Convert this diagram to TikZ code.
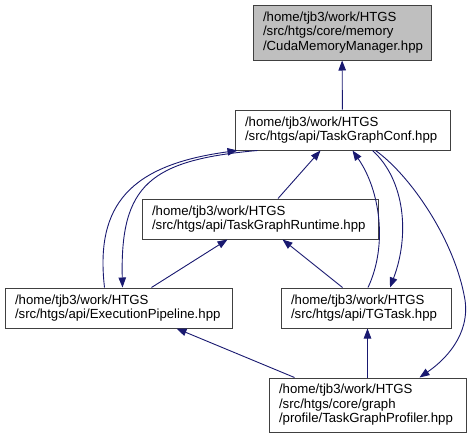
\documentclass[tikz,border=0pt]{standalone}
\usepackage{fontspec}
\setmainfont{Liberation Sans}
\usepackage{xcolor}
\usepackage{tikz}
\usetikzlibrary{arrows.meta}
\definecolor{edgeblue}{HTML}{191970}
\definecolor{boxgray}{HTML}{BFBFBF}
\definecolor{boxline}{HTML}{404040}

\begin{document}
\begin{tikzpicture}[x=1pt,y=-1pt,
  file/.style={draw=boxline,line width=1pt,fill=white,align=left,inner xsep=10pt,inner ysep=2pt,
    font=\fontsize{13.2}{14.5}\selectfont},
  inc/.style={edgeblue,line width=0.9pt,-{Triangle[length=10pt,width=7.5pt]}}]
\useasboundingbox (0,0) rectangle (474,439);
\node[file,fill=boxgray,text width=158pt,minimum height=55pt](cmm) at (342,32.5){/home/tjb3/work/HTGS\\/src/htgs/core/memory\\/CudaMemoryManager.hpp};
\node[file,text width=195pt,minimum height=40pt](conf) at (342.5,130){/home/tjb3/work/HTGS\\/src/htgs/api/TaskGraphConf.hpp};
\node[file,text width=216pt,minimum height=40pt](runtime) at (260,219){/home/tjb3/work/HTGS\\/src/htgs/api/TaskGraphRuntime.hpp};
\node[file,text width=207pt,minimum height=40pt](pipe) at (118.5,308){/home/tjb3/work/HTGS\\/src/htgs/api/ExecutionPipeline.hpp};
\node[file,text width=150pt,minimum height=40pt](tgtask) at (366,308){/home/tjb3/work/HTGS\\/src/htgs/api/TGTask.hpp};
\node[file,text width=177pt,minimum height=54pt](profiler) at (367.5,405){/home/tjb3/work/HTGS\\/src/htgs/core/graph\\/profile/TaskGraphProfiler.hpp};
% include edges
\draw[inc](conf)--(cmm);
\draw[inc]([xshift=100pt]pipe.north west) .. controls (95,205) and (130,165) .. ([xshift=3pt]conf.south west);
\draw[inc]([xshift=23pt]conf.south west) .. controls (150,160) and (120,185) .. ([xshift=118pt]pipe.north west);
\draw[inc]([xshift=18pt]runtime.north)--([xshift=-22pt]conf.south);
\draw[inc]([xshift=2pt]tgtask.north) .. controls (388,245) and (380,190) .. ([xshift=10pt]conf.south);
\draw[inc]([xshift=30pt]conf.south) .. controls (405,180) and (410,235) .. ([xshift=24pt]tgtask.north);
\draw[inc]([xshift=33pt]conf.south) .. controls (410,175) and (455,240) .. (465,300)
  .. controls (470,335) and (445,360) .. ([xshift=52pt]profiler.north);
\draw[inc]([xshift=147pt]pipe.north west)--([xshift=86pt]runtime.south west);
\draw[inc]([xshift=62pt]tgtask.north west)--([xshift=141pt]runtime.south west);
\draw[inc]([xshift=26pt]profiler.north west)--([xshift=172pt]pipe.south west);
\draw[inc](profiler.north)--(profiler.north |- tgtask.south);
\end{tikzpicture}
\end{document}
